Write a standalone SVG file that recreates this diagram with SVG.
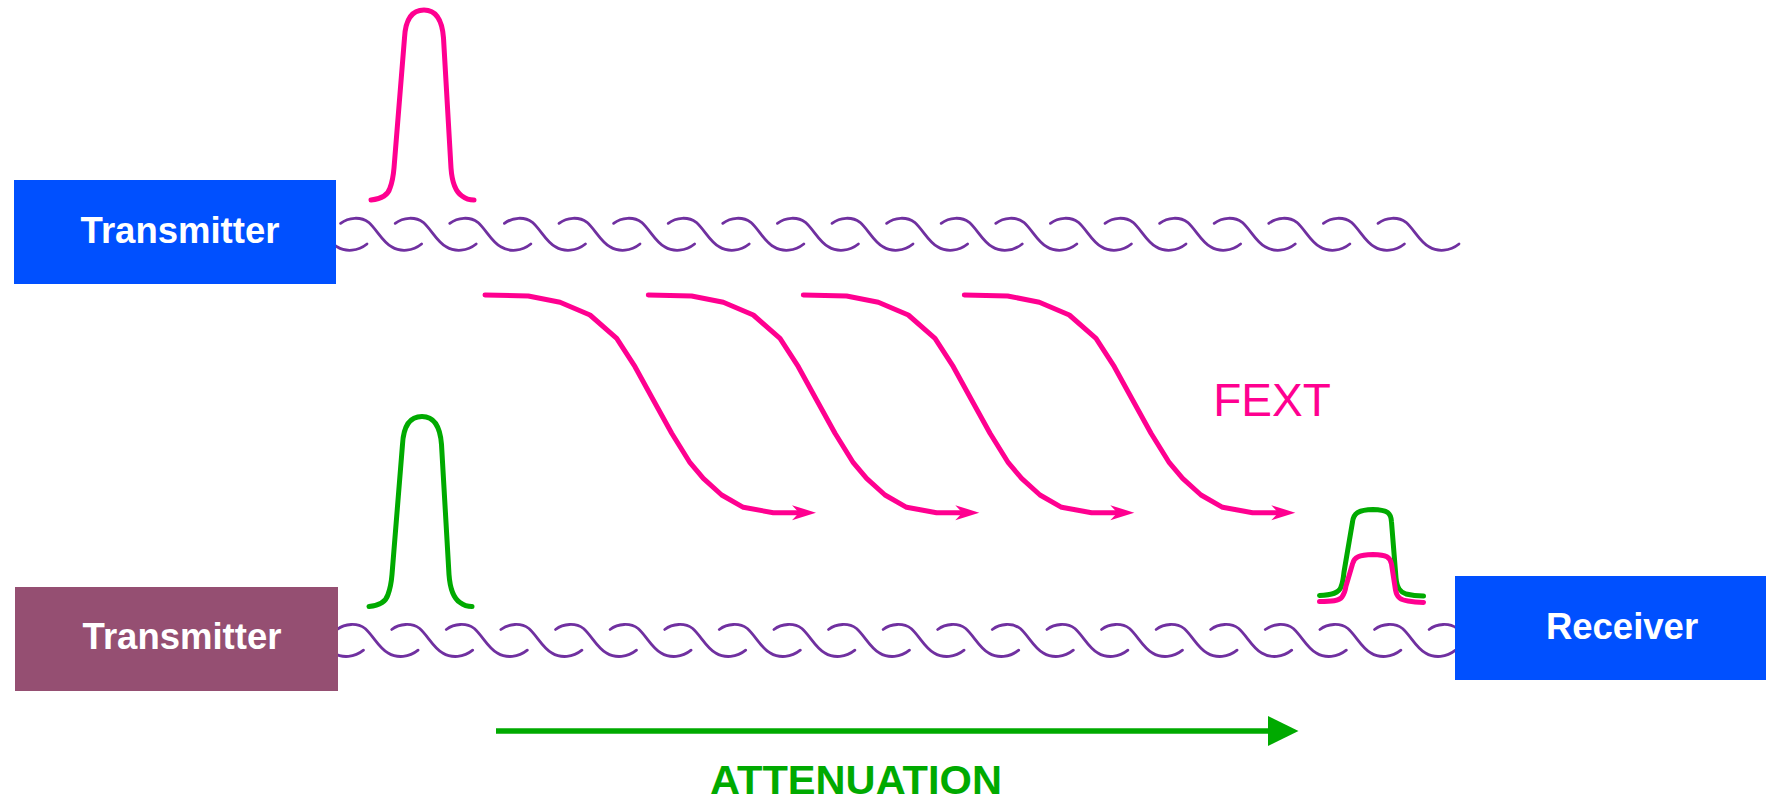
<svg xmlns="http://www.w3.org/2000/svg" xmlns:xlink="http://www.w3.org/1999/xlink" width="1766" height="801" viewBox="0 0 1766 801">
  <style>
    .wire { fill: none; stroke: #7030A0; stroke-width: 2.8; stroke-linecap: round; stroke-linejoin: round; }
    .pulse { fill: none; stroke-width: 5; stroke-linecap: round; stroke-linejoin: round; }
    .pink { stroke: #FF0090; }
    .green { stroke: #00AA00; }
    .fext { fill: none; stroke: #FF0090; stroke-width: 5; stroke-linecap: round; stroke-linejoin: round; }
    .box-label { font-family: "Liberation Sans", Arial, sans-serif; font-weight: bold; font-size: 36.5px; fill: #FFFFFF; text-anchor: middle; }
  </style>
  <defs>
    <!-- one twist of the pair; repeated along each line -->
    <path id="twist" d="M0,5 C8,-1 20,-2 28,4 C36,11 42,24 51,28.5 C60,34 72,33 81,25.7"/>
    <!-- transmitted pulse shape -->
    <path id="tx-pulse" d="M371,200 C382,199 388,195 390,188 Q393,180 394,168 L404.5,38 C405.5,18 413,10 424,10 C435,10 442,18 443.5,38 L451,168 C452,182 456,192 462,196 C466,199 470,200 474,200"/>
    <marker id="fext-head" markerUnits="userSpaceOnUse" viewBox="-13 -9 26 18" markerWidth="26" markerHeight="18" refX="0" refY="0" orient="auto">
      <path d="M12,0 L-12,-7.5 L-5,0 L-12,7.5 Z" fill="#FF0090"/>
    </marker>
    <polyline id="fext-curve" class="fext" marker-end="url(#fext-head)" points="485,295 528.3,296 560,302.3 590,315 616.7,338.3 635,366.7 653.3,400 671.7,433.3 690,462.7 703.3,478.3 721.7,495 743.3,507.3 773.3,512.7 804,512.7"/>
  </defs>

  <rect width="1766" height="801" fill="#FFFFFF"/>

  <!-- upper twisted pair -->
  <g id="wire-top" class="wire">
    <use href="#twist" x="286" y="218.3"/>
    <use href="#twist" x="340.6" y="218.3"/>
    <use href="#twist" x="395.2" y="218.3"/>
    <use href="#twist" x="449.8" y="218.3"/>
    <use href="#twist" x="504.4" y="218.3"/>
    <use href="#twist" x="559" y="218.3"/>
    <use href="#twist" x="613.6" y="218.3"/>
    <use href="#twist" x="668.2" y="218.3"/>
    <use href="#twist" x="722.8" y="218.3"/>
    <use href="#twist" x="777.4" y="218.3"/>
    <use href="#twist" x="832" y="218.3"/>
    <use href="#twist" x="886.6" y="218.3"/>
    <use href="#twist" x="941.2" y="218.3"/>
    <use href="#twist" x="995.8" y="218.3"/>
    <use href="#twist" x="1050.4" y="218.3"/>
    <use href="#twist" x="1105" y="218.3"/>
    <use href="#twist" x="1159.6" y="218.3"/>
    <use href="#twist" x="1214.2" y="218.3"/>
    <use href="#twist" x="1268.8" y="218.3"/>
    <use href="#twist" x="1323.4" y="218.3"/>
    <use href="#twist" x="1378" y="218.3"/>
  </g>

  <!-- lower twisted pair -->
  <g id="wire-bottom" class="wire">
    <use href="#twist" x="282.5" y="624.5"/>
    <use href="#twist" x="337.1" y="624.5"/>
    <use href="#twist" x="391.7" y="624.5"/>
    <use href="#twist" x="446.3" y="624.5"/>
    <use href="#twist" x="500.9" y="624.5"/>
    <use href="#twist" x="555.5" y="624.5"/>
    <use href="#twist" x="610.1" y="624.5"/>
    <use href="#twist" x="664.7" y="624.5"/>
    <use href="#twist" x="719.3" y="624.5"/>
    <use href="#twist" x="773.9" y="624.5"/>
    <use href="#twist" x="828.5" y="624.5"/>
    <use href="#twist" x="883.1" y="624.5"/>
    <use href="#twist" x="937.7" y="624.5"/>
    <use href="#twist" x="992.3" y="624.5"/>
    <use href="#twist" x="1046.9" y="624.5"/>
    <use href="#twist" x="1101.5" y="624.5"/>
    <use href="#twist" x="1156.1" y="624.5"/>
    <use href="#twist" x="1210.7" y="624.5"/>
    <use href="#twist" x="1265.3" y="624.5"/>
    <use href="#twist" x="1319.9" y="624.5"/>
    <use href="#twist" x="1374.5" y="624.5"/>
    <use href="#twist" x="1429.1" y="624.5"/>
  </g>

  <g id="transmitter-top">
    <rect x="14" y="180" width="322" height="104" fill="#0050FF"/>
    <text class="box-label" x="180" y="242.5">Transmitter</text>
  </g>

  <g id="transmitter-bottom">
    <rect x="15" y="587" width="323" height="104" fill="#954F72"/>
    <text class="box-label" x="182" y="649">Transmitter</text>
  </g>

  <g id="receiver">
    <rect x="1455" y="576" width="311" height="104" fill="#0050FF"/>
    <text class="box-label" x="1622" y="639.3">Receiver</text>
  </g>

  <!-- pulses -->
  <g id="pulses">
    <use href="#tx-pulse" class="pulse pink"/>
    <use href="#tx-pulse" class="pulse green" x="-2" y="406.5"/>
    <path class="pulse green" d="M1319.5,595.5 C1332,595 1339,593 1341,587 Q1343,582 1344,572 L1352.5,522 C1353.5,513 1358,510 1373,509.5 C1388,510 1391,513 1391.5,522 L1396,578 C1397,588 1400,592 1406,594 C1412,595.5 1418,596 1423.5,596"/>
    <path class="pulse pink" d="M1319.5,601.5 C1332,601.5 1339,601 1342,597 Q1345,593 1346,586 L1352.5,564 C1354,557 1359,555 1373,554.5 C1387,555 1390,557 1391.5,564 L1395.5,590 C1397,598 1401,600 1408,601 C1414,602 1419,602.3 1423.5,602.5"/>
  </g>

  <!-- crosstalk paths and attenuation direction -->
  <g id="connectors">
    <use href="#fext-curve"/>
    <use href="#fext-curve" x="163.3"/>
    <use href="#fext-curve" x="318.3"/>
    <use href="#fext-curve" x="479.3"/>
    <line x1="496" y1="731" x2="1270" y2="731" stroke="#00AA00" stroke-width="5.3"/>
    <polygon points="1268,716 1298.5,731 1268,746" fill="#00AA00"/>
  </g>

  <g id="labels">
    <text x="1272" y="416" font-family="'Liberation Sans', Arial, sans-serif" font-size="46" fill="#FF0090" text-anchor="middle">FEXT</text>
    <text x="856" y="794" font-family="'Liberation Sans', Arial, sans-serif" font-weight="bold" font-size="40" fill="#00AA00" text-anchor="middle" textLength="292" lengthAdjust="spacingAndGlyphs">ATTENUATION</text>
  </g>
</svg>
